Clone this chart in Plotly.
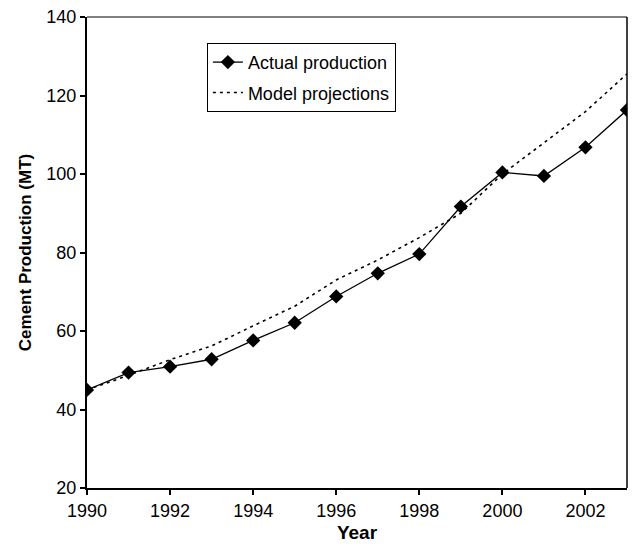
import plotly.graph_objects as go

years = list(range(1990, 2004))
actual_production = [45.0, 49.4, 50.9, 52.8, 57.6, 62.1, 68.8, 74.7, 79.6, 91.7, 100.4, 99.5, 106.8, 116.3]
model_projections = [45.0, 48.7, 52.7, 56.2, 61.3, 66.3, 73.0, 78.1, 83.8, 90.0, 100.0, 107.9, 115.9, 125.5]

x_ticks = [1990, 1992, 1994, 1996, 1998, 2000, 2002]
y_ticks = [20, 40, 60, 80, 100, 120, 140]

font_family = "Liberation Sans, Arial, sans-serif"

fig = go.Figure()
fig.add_trace(go.Scatter(
    x=years, y=actual_production, name="Actual production",
    mode="lines+markers", legendgroup="a",
    line=dict(color="black", width=1.3),
    marker=dict(symbol="diamond", size=11, color="black"),
))
fig.add_trace(go.Scatter(
    x=years, y=model_projections, name="Model projections",
    mode="lines", legendgroup="b",
    line=dict(color="black", width=1.6, dash="3px,4px"),
))

fig.update_layout(
    width=634, height=547,
    margin=dict(l=87, r=7, t=15, b=56),
    paper_bgcolor="white", plot_bgcolor="white",
    font=dict(family=font_family, size=18, color="black"),
    showlegend=True,
    legend=dict(
        x=0.222, y=0.945, xanchor="left", yanchor="top",
        bordercolor="black", borderwidth=1, bgcolor="white",
        font=dict(size=18), tracegroupgap=4,
    ),
    xaxis=dict(
        range=[1990, 2003], tickvals=x_ticks, ticktext=[str(v) for v in x_ticks],
        ticks="outside", ticklen=5, tickwidth=1.5, tickcolor="black",
        tickfont=dict(size=18),
        showline=True, linecolor="black", linewidth=2,
        showgrid=False, zeroline=False,
        title=dict(text="<b>Year</b>", font=dict(size=19), standoff=6),
    ),
    yaxis=dict(
        range=[20, 140], tickvals=y_ticks,
        ticks="outside", ticklen=5, tickwidth=1.5, tickcolor="black",
        tickfont=dict(size=18),
        showline=True, linecolor="black", linewidth=2,
        showgrid=False, zeroline=False,
        title=dict(text="<b>Cement Production (MT)</b>", font=dict(size=17), standoff=10),
    ),
)

# thin frame on the top and right sides of the plot area
fig.add_shape(type="line", xref="paper", yref="paper", x0=0, x1=1, y0=1, y1=1,
              line=dict(color="black", width=1))
fig.add_shape(type="line", xref="paper", yref="paper", x0=1, x1=1, y0=0, y1=1,
              line=dict(color="black", width=1.5))

fig.write_html("out.html")
